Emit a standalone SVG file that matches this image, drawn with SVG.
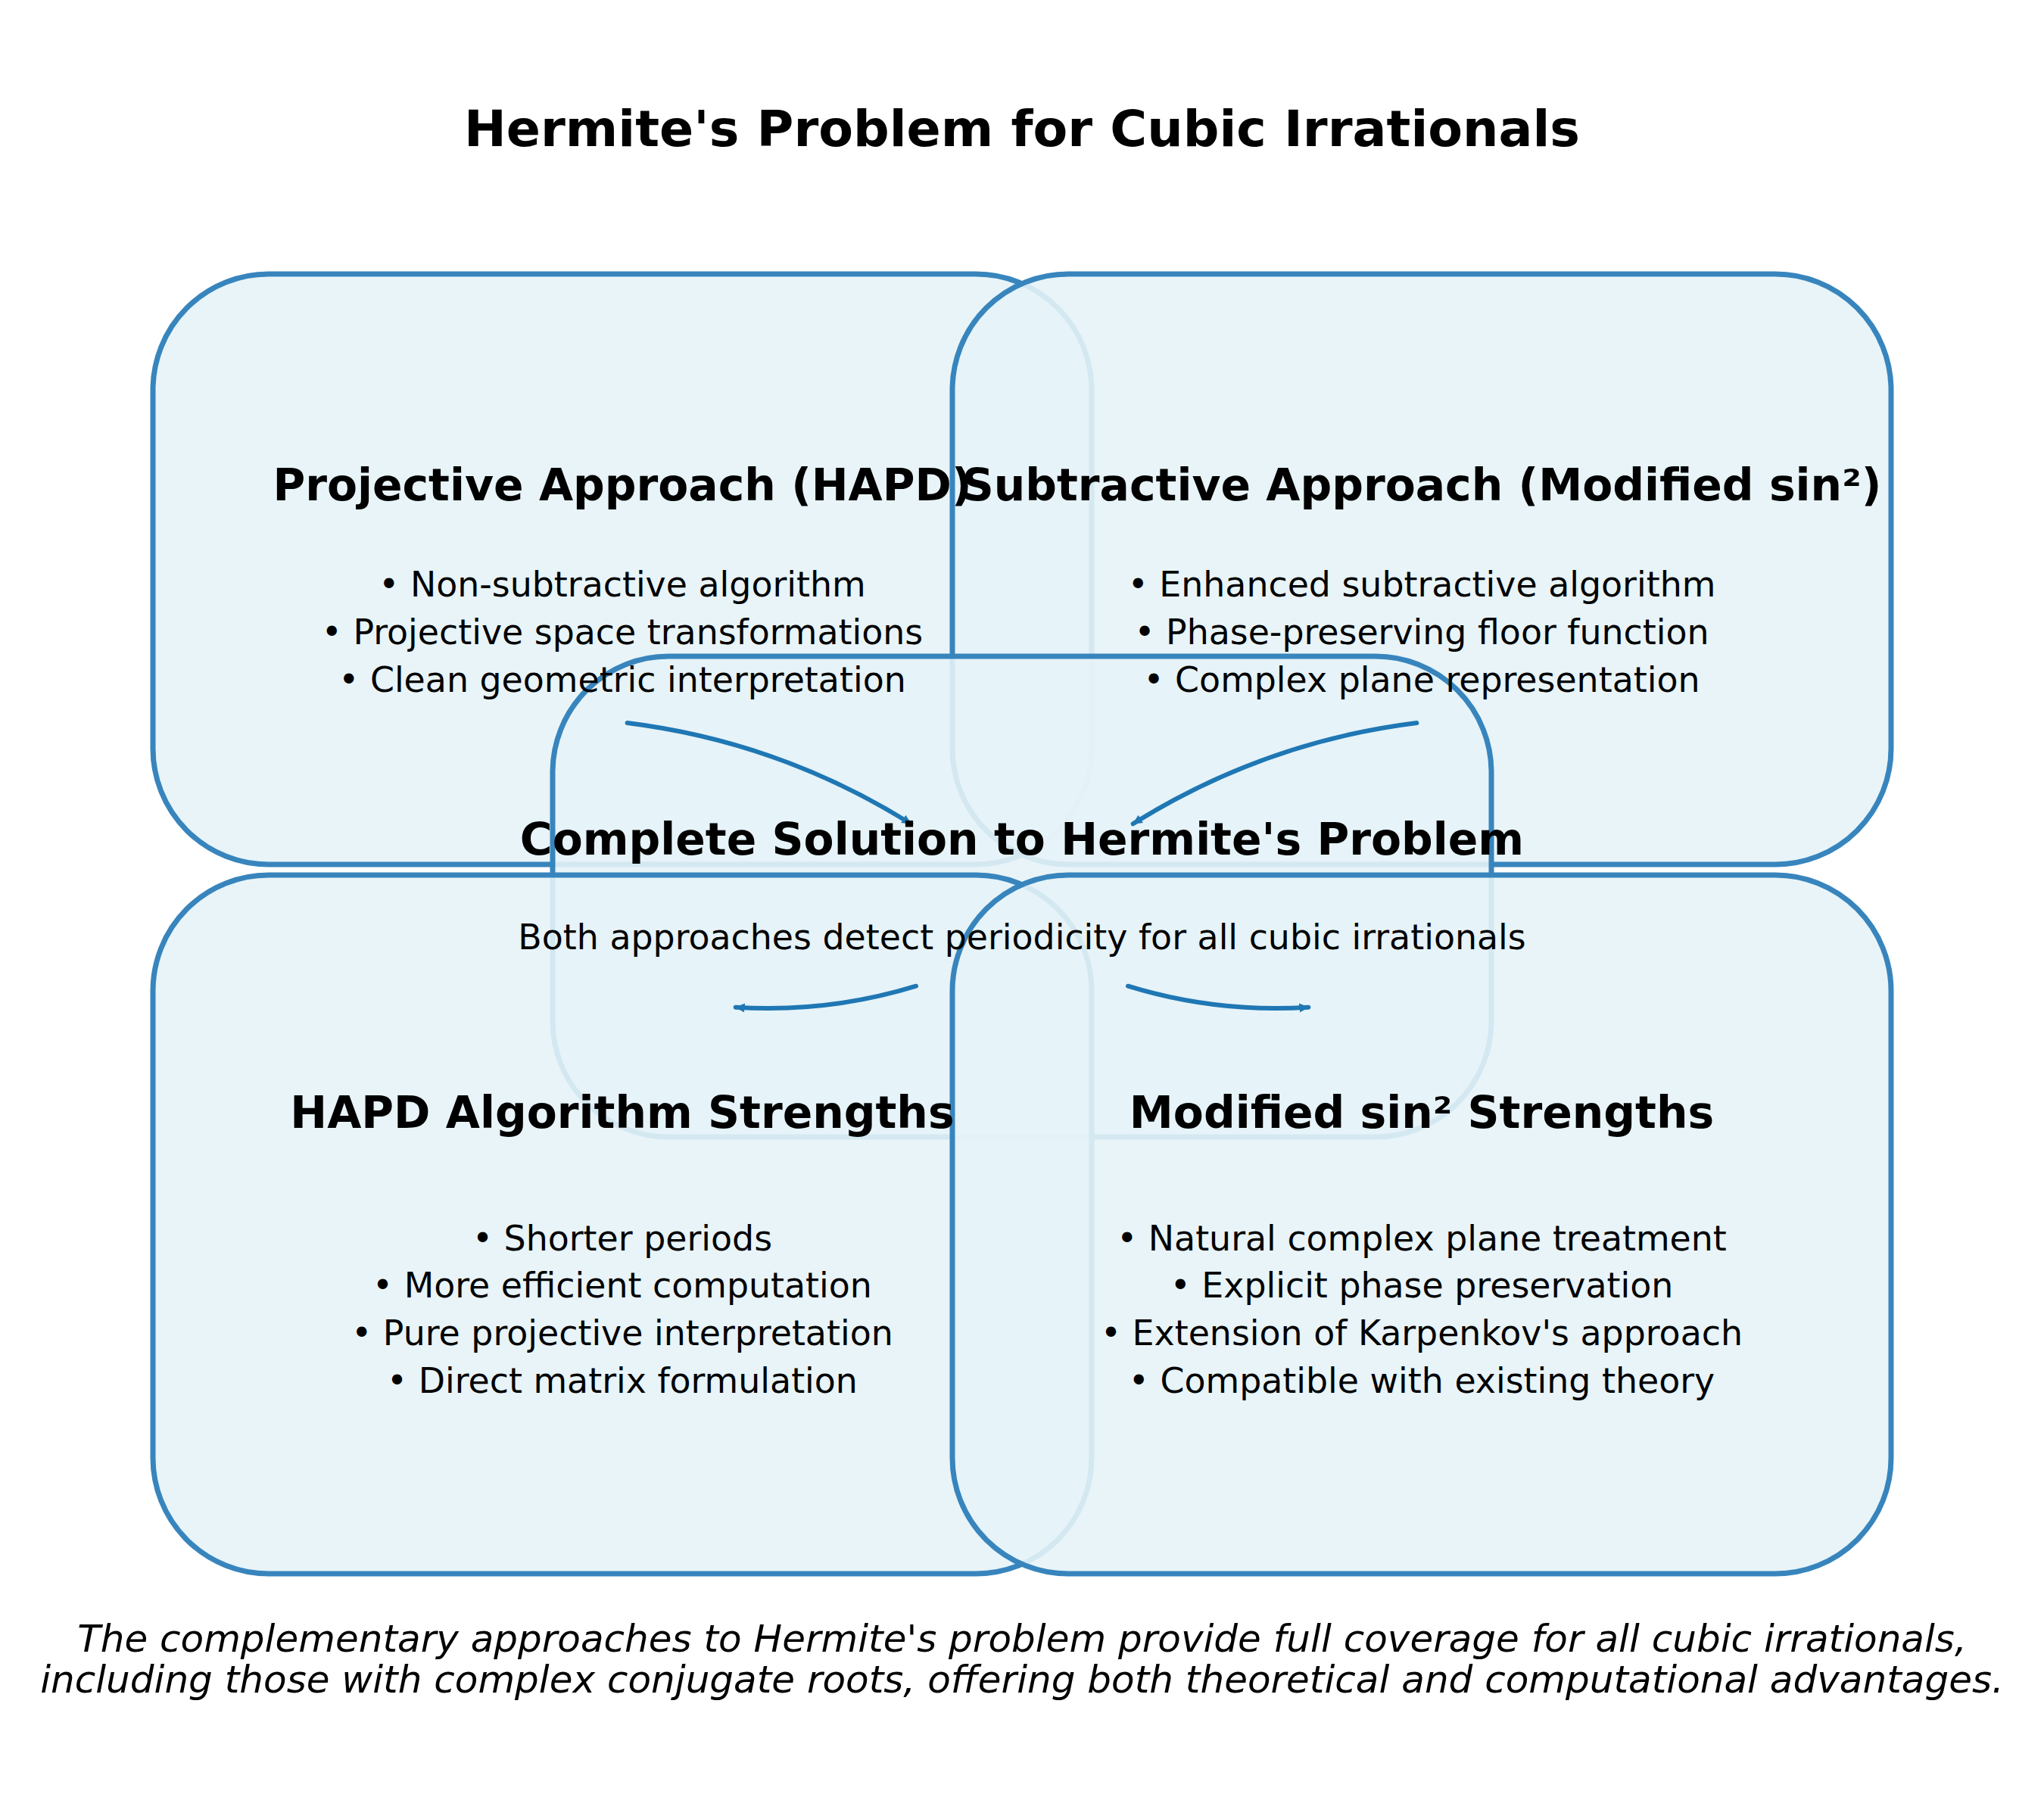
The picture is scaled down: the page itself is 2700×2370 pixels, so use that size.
<svg xmlns="http://www.w3.org/2000/svg" width="2700" height="2370" viewBox="0 0 2700 2370">
<style>
.box{fill:#e6f3f7;fill-opacity:0.9;stroke:#3885bd;stroke-width:7}
.conn{fill:none;stroke:#1f77b4;stroke-width:6;stroke-linecap:round}
text{font-family:"DejaVu Sans","Liberation Sans",sans-serif;fill:#000;text-anchor:middle}
.title{font-size:66.67px;font-weight:bold}
.ntitle{font-size:58.33px;font-weight:bold}
.body{font-size:45.83px}
.foot{font-size:50px;font-style:italic}
</style>
<defs>
<marker id="head" markerUnits="userSpaceOnUse" markerWidth="16" markerHeight="14" viewBox="0 -7 16 14" refX="12" refY="0" orient="auto">
<path d="M0,-6 L13,0 L0,6 z" fill="#1f77b4"/>
</marker>
</defs>
<rect width="2700" height="2370" fill="#ffffff"/>
<text class="title" x="1350" y="193">Hermite's Problem for Cubic Irrationals</text>
<g id="nodes">
<g id="node-projective"><rect class="box" x="202" y="362" width="1240" height="780" rx="153" ry="153"/></g>
<g id="node-subtractive"><rect class="box" x="1258" y="362" width="1240" height="780" rx="153" ry="153"/></g>
<g id="node-complete"><rect class="box" x="730" y="867" width="1240" height="635" rx="153" ry="153"/></g>
<g id="node-hapd-strengths"><rect class="box" x="202" y="1156" width="1240" height="923" rx="153" ry="153"/></g>
<g id="node-sin2-strengths"><rect class="box" x="1258" y="1156" width="1240" height="923" rx="153" ry="153"/></g>
</g>
<g id="connectors">
<path class="conn" d="M828.6,955 Q1030.6,980.2 1203.3,1088.3" marker-end="url(#head)"/>
<path class="conn" d="M1871.4,955 Q1669.4,980.2 1496.7,1088.3" marker-end="url(#head)"/>
<path class="conn" d="M1210,1302.7 Q1093.4,1338.5 971.7,1330.7" marker-end="url(#head)"/>
<path class="conn" d="M1490,1302.7 Q1606.6,1338.5 1728.3,1330.7" marker-end="url(#head)"/>
</g>
<g id="labels">
<g id="label-projective">
<text class="ntitle" x="822" y="661">Projective Approach (HAPD)</text>
<text class="body" x="822" y="788">• Non-subtractive algorithm</text>
<text class="body" x="822" y="851">• Projective space transformations</text>
<text class="body" x="822" y="914">• Clean geometric interpretation</text>
</g>
<g id="label-subtractive">
<text class="ntitle" x="1878" y="661">Subtractive Approach (Modified sin²)</text>
<text class="body" x="1878" y="788">• Enhanced subtractive algorithm</text>
<text class="body" x="1878" y="851">• Phase-preserving floor function</text>
<text class="body" x="1878" y="914">• Complex plane representation</text>
</g>
<g id="label-complete">
<text class="ntitle" x="1350" y="1129">Complete Solution to Hermite's Problem</text>
<text class="body" x="1350" y="1254">Both approaches detect periodicity for all cubic irrationals</text>
</g>
<g id="label-hapd-strengths">
<text class="ntitle" x="822" y="1490">HAPD Algorithm Strengths</text>
<text class="body" x="822" y="1652">• Shorter periods</text>
<text class="body" x="822" y="1714">• More efficient computation</text>
<text class="body" x="822" y="1777">• Pure projective interpretation</text>
<text class="body" x="822" y="1840">• Direct matrix formulation</text>
</g>
<g id="label-sin2-strengths">
<text class="ntitle" x="1878" y="1490">Modified sin² Strengths</text>
<text class="body" x="1878" y="1652">• Natural complex plane treatment</text>
<text class="body" x="1878" y="1714">• Explicit phase preservation</text>
<text class="body" x="1878" y="1777">• Extension of Karpenkov's approach</text>
<text class="body" x="1878" y="1840">• Compatible with existing theory</text>
</g>
</g>
<text class="foot" x="1350" y="2182">The complementary approaches to Hermite's problem provide full coverage for all cubic irrationals,</text>
<text class="foot" x="1350" y="2236">including those with complex conjugate roots, offering both theoretical and computational advantages.</text>
</svg>
